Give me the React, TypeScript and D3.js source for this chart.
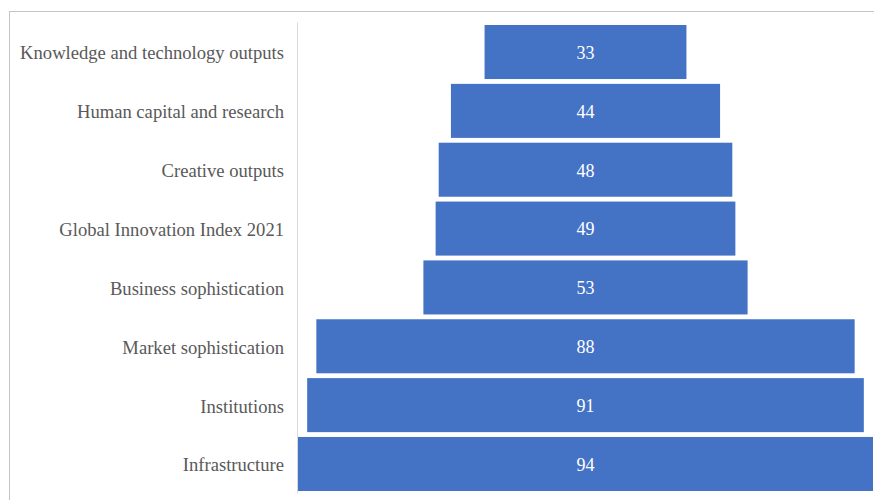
import React from "react";
import * as d3 from "d3";

const categories: string[] = [
  "Knowledge and technology outputs",
  "Human capital and research",
  "Creative outputs",
  "Global Innovation Index 2021",
  "Business sophistication",
  "Market sophistication",
  "Institutions",
  "Infrastructure",
];
const values: number[] = [33, 44, 48, 49, 53, 88, 91, 94];

const W = 874;
const H = 500;
const axisX = 297.5;
const plotRight = 873;

export default function App() {
  const y = d3
    .scaleBand<string>()
    .domain(categories)
    .range([22.6, 493.4])
    .paddingInner(0.082)
    .paddingOuter(0.041);
  const maxV = d3.max(values) as number;
  const w = d3.scaleLinear().domain([0, maxV]).range([0, plotRight - axisX - 0.5]);
  const cx = (axisX + 0.5 + plotRight) / 2;

  return (
    <svg
      width={W}
      height={H}
      style={{ position: "absolute", left: 0, top: 0, background: "#fff" }}
      fontFamily="'Liberation Serif', 'Times New Roman', serif"
    >
      <rect x={9.5} y={11.5} width={W + 20} height={H + 20} fill="#fff" stroke="#c4c4c4" strokeWidth={1} />
      <line x1={axisX} x2={axisX} y1={y.range()[0]} y2={y.range()[1]} stroke="#d9d9d9" strokeWidth={1} />
      {categories.map((c, i) => {
        const bw = w(values[i]);
        const by = y(c) as number;
        return (
          <g key={c}>
            <rect x={cx - bw / 2} y={by} width={bw} height={y.bandwidth()} fill="#4472C4" />
            <text
              x={cx}
              y={by + y.bandwidth() / 2}
              dy="0.38em"
              textAnchor="middle"
              fill="#ffffff"
              fontSize={18}
            >
              {values[i]}
            </text>
            <text
              x={284}
              y={by + y.bandwidth() / 2}
              dy="0.4em"
              textAnchor="end"
              fill="#595959"
              fontSize={18.6}
            >
              {c}
            </text>
          </g>
        );
      })}
    </svg>
  );
}
